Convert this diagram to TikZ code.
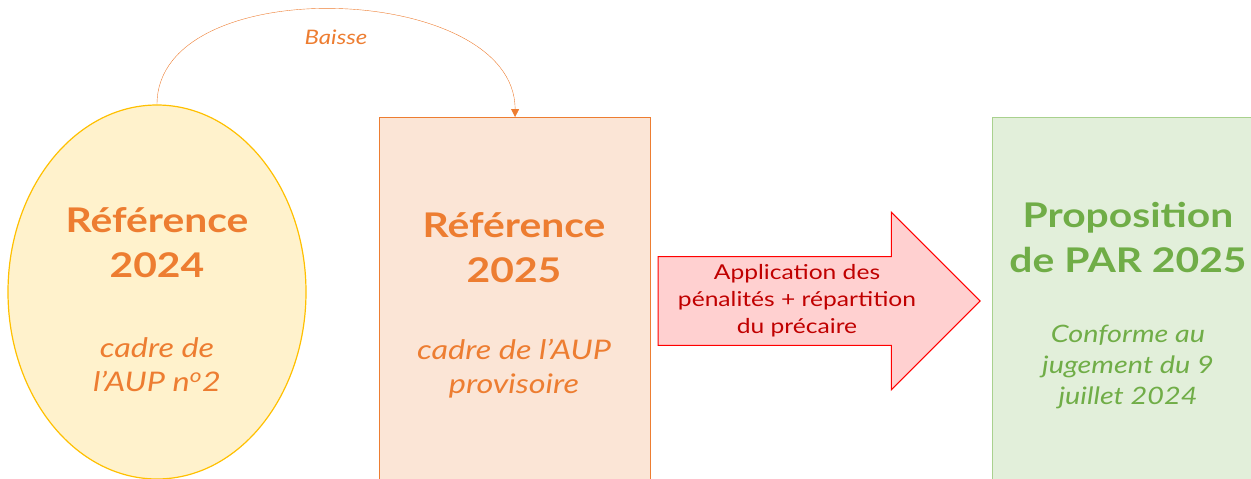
\documentclass[tikz,border=0pt]{standalone}
\usepackage{fontspec}
\setmainfont{Lato}[FakeStretch=1.2]
\usetikzlibrary{positioning,shapes.geometric,shapes.arrows,arrows.meta}
\definecolor{refOrange}{HTML}{ED7D31}
\definecolor{refFill}{HTML}{FBE5D6}
\definecolor{oldLine}{HTML}{FFC000}
\definecolor{oldFill}{HTML}{FFF2CC}
\definecolor{parGreen}{HTML}{70AD47}
\definecolor{parLine}{HTML}{A9D18E}
\definecolor{parFill}{HTML}{E2EFDA}
\definecolor{penRed}{HTML}{FF0000}
\definecolor{penFill}{HTML}{FFD0D0}
\definecolor{penText}{HTML}{C00000}
\tikzset{big title/.style={font=\fontsize{34}{45}\selectfont\bfseries,align=center,inner sep=0pt},
	sub title/.style={font=\fontsize{27}{34}\selectfont\itshape,align=center,inner sep=0pt},
	box node/.style={rectangle,draw,line width=1.2pt,anchor=north west,inner sep=0pt},
}

\begin{document}
\begin{tikzpicture}[x=1pt,y=-1pt]
	\useasboundingbox (0,0) rectangle (1251,479);
	\node[ellipse,draw=oldLine,fill=oldFill,line width=1.2pt,minimum width=298pt,minimum height=374pt,inner sep=0pt] (ref24) at (157,292) {};
	\node[box node,draw=refOrange,fill=refFill,minimum width=271pt,minimum height=380pt] (ref25) at (379,117) {};
	\node[box node,draw=parLine,fill=parFill,minimum width=270pt,minimum height=380pt] (par25) at (992,117) {};
	\node[single arrow,draw=penRed,fill=penFill,line width=1pt,minimum height=322pt,single arrow head extend=44.5pt,single arrow tip angle=90,inner xsep=0pt,inner ysep=7.5pt,align=center,text=penText,font=\fontsize{20.5}{27}\selectfont] (penal) at (797,301) {Application des\\pénalités + répartition\\du précaire};
	
	\node[big title,refOrange] (t24) at (157,243) {Référence\\2024};
	\node[sub title,refOrange] (s24) at (157,365) {cadre de\\l’AUP n\textsuperscript{o}2};
	\node[big title,refOrange] (t25) at (514,248) {Référence\\2025};
	\node[sub title,refOrange] (s25) at (514,369) {cadre de l’AUP\\provisoire};
	\node[big title,parGreen] (tpar) at (1128,237) {Proposition\\de PAR 2025};
	\node[sub title,parGreen,font=\fontsize{24}{31}\selectfont\itshape] (spar) at (1128,367) {Conforme au\\jugement du 9\\juillet 2024};
	
	\draw[refOrange,-{Triangle[length=8pt,width=8pt]}] (ref24.north) .. controls +(0,-135) and +(0,-135) .. node[below=17pt,font=\fontsize{20}{22}\selectfont\itshape] {Baisse} (ref25.north);
\end{tikzpicture}
\end{document}
